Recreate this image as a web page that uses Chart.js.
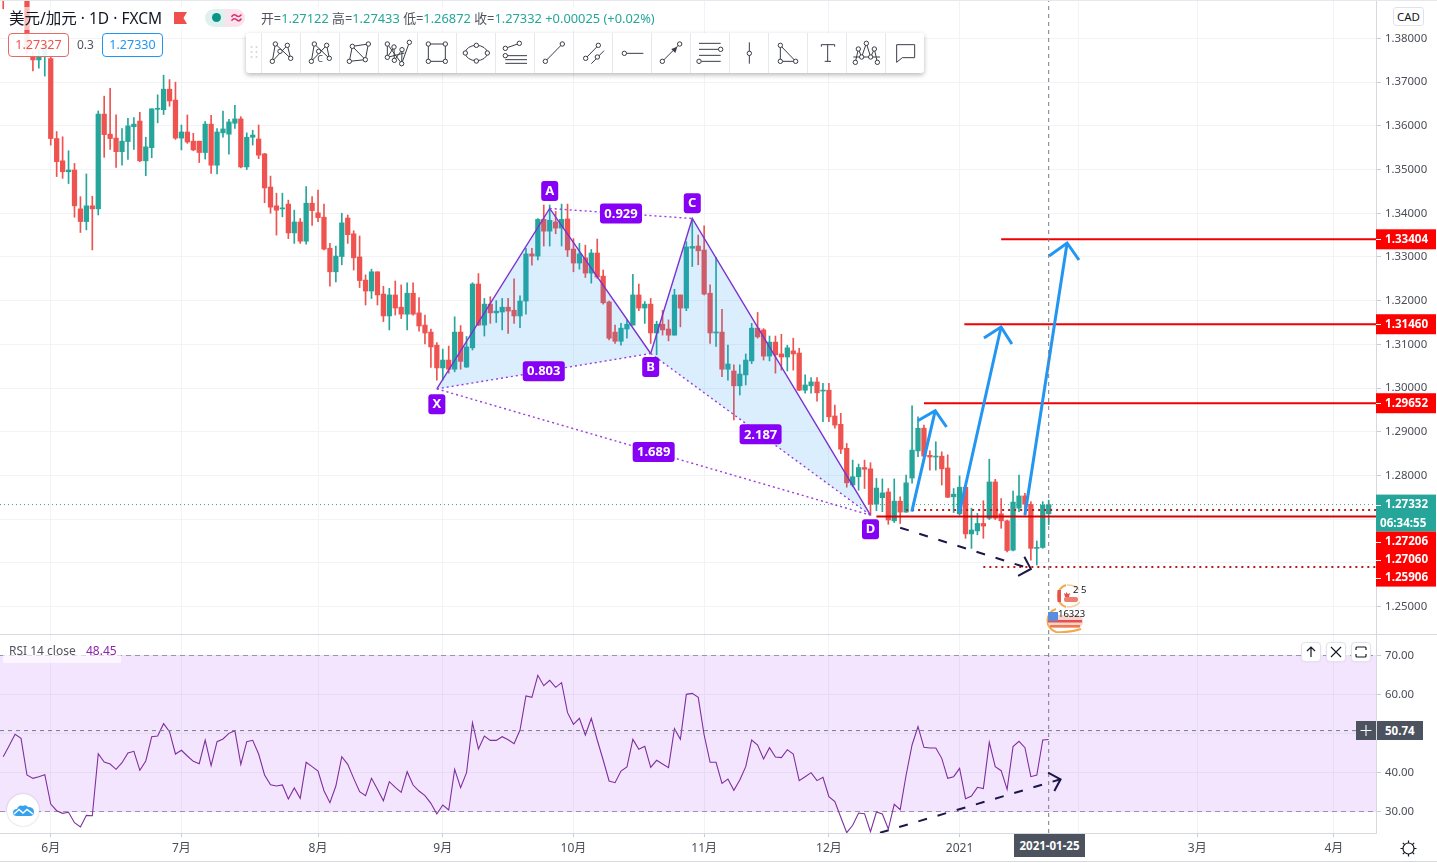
<!DOCTYPE html>
<html lang="zh">
<head>
<meta charset="utf-8">
<title>USD/CAD</title>
<script src="https://cdn.jsdelivr.net/npm/chart.js@4"></script>
<style>
html,body{margin:0;padding:0;background:#fff;width:1437px;height:863px;overflow:hidden;font-family:"Noto Sans","Noto Sans CJK SC",sans-serif}
canvas{position:absolute;left:0;display:block}
.o{position:absolute;white-space:nowrap;box-sizing:border-box}
.btn{background:#fff;border:1px solid #e0e3eb;border-radius:4px;width:20px;height:20px;top:642px;box-shadow:0 0 2px rgba(0,0,0,.08)}
</style>
</head>
<body>
<canvas id="priceCanvas" width="1437" height="634" style="top:0"></canvas>
<canvas id="rsiCanvas" width="1437" height="228" style="top:634px"></canvas>

<div class="o" style="left:0;top:0;width:1437px;height:1px;background:#e6e8ee"></div>
<div class="o" style="left:0;top:634px;width:1437px;height:1px;background:#d6d9e0"></div>
<div class="o" style="left:0;top:861px;width:1437px;height:1px;background:#d6d9e0"></div>

<div class="o" style="left:4px;top:7px;width:654px;height:23px;background:rgba(255,255,255,.62)"></div>
<div class="o" style="left:9px;top:8px;font-size:15.5px;line-height:20px;color:#131722">美元/加元 · 1D · FXCM</div>
<svg class="o" style="left:174px;top:12px" width="13" height="12"><path d="M0 0H13L9.5 6L13 12H0Z" fill="#f0504d"/></svg>
<div class="o" style="left:205px;top:9px;width:40px;height:18px;border-radius:9px;background:linear-gradient(90deg,#dff1ef 0 50%,#fbe3ec 50%)"></div>
<div class="o" style="left:212px;top:13px;width:9px;height:9px;border-radius:50%;background:#0a9488"></div>
<div class="o" style="left:229px;top:8px;font-size:15px;line-height:19px;font-weight:bold;color:#d8306f">≈</div>
<div class="o" style="left:261px;top:10px;font-size:12.85px;line-height:16px;color:#50535e">开=<span style="color:#26a69a">1.27122</span> 高=<span style="color:#26a69a">1.27433</span> 低=<span style="color:#26a69a">1.26872</span> 收=<span style="color:#26a69a">1.27332</span> <span style="color:#26a69a">+0.00025 (+0.02%)</span></div>

<div class="o" style="left:8px;top:33px;width:61px;height:24px;border:1px solid #e56a68;border-radius:4px;background:rgba(255,255,255,.9);color:#ef5350;font-size:12.5px;line-height:22px;text-align:center">1.27327</div>
<div class="o" style="left:77px;top:36px;font-size:12px;line-height:18px;color:#50535e">0.3</div>
<div class="o" style="left:102px;top:33px;width:61px;height:24px;border:1px solid #2196f3;border-radius:4px;background:rgba(255,255,255,.9);color:#2196f3;font-size:12.5px;line-height:22px;text-align:center">1.27330</div>

<div id="toolbar" class="o" style="left:246px;top:33px;width:678px;height:40px;background:#fff;border-radius:3px;box-shadow:0 2px 5px rgba(0,0,0,.28)"></div>

<div class="o" style="left:1393px;top:7px;width:31px;height:19px;border:1px solid #e0e3eb;border-radius:3px;background:#fff;font-size:11.5px;line-height:17px;text-align:center;color:#131722">CAD</div>

<div class="o" style="left:3px;top:641px;width:118px;height:22px;background:rgba(255,255,255,.65)"></div>
<div class="o" style="left:9px;top:643px;font-size:12px;line-height:16px;color:#50535e">RSI 14 close</div>
<div class="o" style="left:86px;top:643px;font-size:12px;line-height:16px;color:#8e24aa">48.45</div>

<div class="o btn" style="left:1301px"><svg width="18" height="18"><path d="M9 14V4M5 8L9 4L13 8" fill="none" stroke="#131722" stroke-width="1.2"/></svg></div>
<div class="o btn" style="left:1326px"><svg width="18" height="18"><path d="M4 4L14 14M14 4L4 14" fill="none" stroke="#131722" stroke-width="1.1"/></svg></div>
<div class="o btn" style="left:1351px"><svg width="18" height="18"><path d="M4 7V5Q4 4 5 4H13Q14 4 14 5V7M4 11V13Q4 14 5 14H13Q14 14 14 13V11" fill="none" stroke="#131722" stroke-width="1.2"/></svg></div>

<div class="o" style="left:1356px;top:721px;width:20px;height:19px;background:#4c525e"><svg width="20" height="19"><path d="M10 4V15M4.500 9.500H15.500" stroke="#fff" stroke-width="1.1"/></svg></div>
<div class="o" style="left:1377px;top:721px;width:46px;height:19px;background:#4c525e;color:#fff;font-size:11.5px;font-weight:bold;line-height:19px;padding-left:8px">50.74</div>
<div class="o" style="left:1014px;top:834px;width:71px;height:23px;background:#4c525e;color:#fff;font-size:11.5px;font-weight:bold;line-height:23px;text-align:center">2021-01-25</div>

<svg class="o" style="left:1399px;top:839px" width="19" height="19"><circle cx="9.500" cy="9.500" r="5.500" fill="none" stroke="#131722" stroke-width="1.2"/><path d="M9.500 1.500V4M9.500 15V17.500M1.500 9.500H4M15 9.500H17.500M3.800 3.800L5.600 5.600M13.400 13.400L15.200 15.200M3.800 15.200L5.600 13.400M13.400 5.600L15.200 3.800" stroke="#131722" stroke-width="1.2"/></svg>

<div class="o" style="left:7px;top:794px;width:32px;height:32px;border-radius:50%;background:#fff;box-shadow:0 0 2px rgba(0,0,0,.25)"><svg width="32" height="32"><path d="M6 19Q6 15 10 15Q12 10 16 12Q19 10 21 13Q27 13 27 18Q27 22 23 22H10Q6 22 6 19Z" fill="#35a2ee"/><path d="M7 20L12 15.500L16 19L20 15.500L26 20" fill="none" stroke="#fff" stroke-width="1.5"/></svg></div>

<svg class="o" style="left:1052px;top:584px" width="32" height="24"><path d="M14 1A11.500 11.500 0 0 0 14 23" fill="none" stroke="#f3a94a" stroke-width="2"/><path d="M15 1Q24 1 27 6M15 23Q24 23 28 18" fill="none" stroke="#f7cf9a" stroke-width="1.5"/><circle cx="14" cy="12" r="8" fill="#fff"/><rect x="5.500" y="6" width="3.500" height="12" fill="#e8504e"/><path d="M14 8l2 2 2-1-1 4h-4l-1-4 2 1z" fill="#e8504e"/><rect x="12" y="13" width="14" height="5" rx="2" fill="#ee7f6e"/></svg>
<div class="o" style="left:1073px;top:584px;font-size:9.500px;line-height:11px;color:#131722">2 5</div>
<svg class="o" style="left:1043px;top:608px" width="42" height="25"><path d="M13 1A12 12 0 0 0 13 24Q26 25 38 21" fill="none" stroke="#f3a94a" stroke-width="2"/><rect x="5" y="7" width="35" height="13" rx="6" fill="#f8d5cc"/><rect x="5" y="12" width="34" height="2.500" fill="#e8504e"/><rect x="7" y="17" width="30" height="2.500" fill="#f07a50"/><rect x="5" y="4" width="10" height="9" fill="#5b8ddc"/></svg>
<div class="o" style="left:1058px;top:608px;width:27px;overflow:hidden;font-size:9.500px;line-height:12px;color:#131722">16323</div>

<script>
// ---- candle values (index 0 = first visible session, 2020-05-20) ----
const opens = [
1.3925,1.3905,1.3935,1.3915,1.3900,1.3758,1.3751,1.3762,1.3754,1.3571,
1.3520,1.3495,1.3499,1.3410,1.3381,1.3417,1.3410,1.3627,1.3581,1.3572,
1.3541,1.3564,1.3598,1.3611,1.3520,1.3550,1.3638,1.3637,1.3684,1.3659,
1.3572,1.3586,1.3565,1.3565,1.3539,1.3604,1.3510,1.3584,1.3581,1.3606,
1.3616,1.3506,1.3574,1.3570,1.3536,1.3460,1.3417,1.3410,1.3421,1.3355,
1.3380,1.3336,1.3423,1.3401,1.3391,1.3320,1.3266,1.3301,1.3389,1.3353,
1.3300,1.3247,1.3222,1.3266,1.3215,1.3165,1.3213,1.3185,1.3169,1.3217,
1.3172,1.3144,1.3128,1.3098,1.3046,1.3064,1.3043,1.3128,1.3048,1.3092,
1.3238,1.3144,1.3192,1.3172,1.3174,1.3185,1.3178,1.3165,1.3199,1.3307,
1.3302,1.3386,1.3359,1.3380,1.3366,1.3387,1.3318,1.3286,1.3298,1.3263,
1.3309,1.3256,1.3197,1.3128,1.3107,1.3135,1.3144,1.3213,1.3183,1.3192,
1.3126,1.3146,1.3135,1.3121,1.3213,1.3183,1.3320,1.3325,1.3316,1.3217,
1.3126,1.3128,1.3043,1.3039,1.3005,1.3030,1.3062,1.3137,1.3133,1.3073,
1.3105,1.3078,1.3071,1.3085,1.3080,1.2995,1.3005,1.3014,1.2993,1.2995,
1.2936,1.2917,1.2862,1.2778,1.2797,1.2818,1.2815,1.2734,1.2749,1.2762,
1.2696,1.2741,1.2716,1.2794,1.2856,1.2908,1.2846,1.2842,1.2844,1.2817,
1.2751,1.2712,1.2773,1.2666,1.2673,1.2690,1.2702,1.2785,1.2712,1.2696,
1.2629,1.2725,1.2753,1.2734,1.2633,1.2635,1.27122];
const closes = [
1.3895,1.3892,1.3905,1.3898,1.3774,1.3751,1.3758,1.3785,1.3571,1.3518,
1.3495,1.3499,1.3417,1.3381,1.3417,1.3410,1.3627,1.3580,1.3571,1.3541,
1.3565,1.3600,1.3604,1.3520,1.3552,1.3639,1.3639,1.3684,1.3657,1.3572,
1.3586,1.3563,1.3545,1.3539,1.3604,1.3510,1.3586,1.3593,1.3609,1.3616,
1.3506,1.3574,1.3579,1.3533,1.3458,1.3414,1.3407,1.3412,1.3355,1.3380,
1.3336,1.3423,1.3406,1.3390,1.3318,1.3266,1.3302,1.3378,1.3351,1.3298,
1.3246,1.3222,1.3266,1.3213,1.3165,1.3213,1.3183,1.3169,1.3217,1.3169,
1.3142,1.3126,1.3094,1.3046,1.3064,1.3043,1.3128,1.3061,1.3094,1.3238,
1.3144,1.3192,1.3172,1.3176,1.3185,1.3176,1.3165,1.3199,1.3307,1.3302,
1.3386,1.3359,1.3384,1.3366,1.3386,1.3316,1.3286,1.3307,1.3263,1.3309,
1.3254,1.3195,1.3114,1.3107,1.3137,1.3146,1.3213,1.3183,1.3192,1.3126,
1.3146,1.3133,1.3121,1.3213,1.3183,1.3323,1.3324,1.3314,1.3215,1.3126,
1.3128,1.3043,1.3055,1.3005,1.3032,1.3064,1.3137,1.3117,1.3073,1.3105,
1.3076,1.3071,1.3092,1.3078,1.2995,1.3007,1.3014,1.2989,1.2995,1.2934,
1.2915,1.2860,1.2783,1.2797,1.2818,1.2814,1.2734,1.2771,1.2760,1.2698,
1.2741,1.2716,1.2783,1.2858,1.2908,1.2844,1.2842,1.2844,1.2815,1.2750,
1.2757,1.2773,1.2666,1.2675,1.2690,1.2684,1.2785,1.2702,1.2696,1.2628,
1.2739,1.2753,1.2734,1.2633,1.2635,1.2732,1.27332];
const highs = [
1.3935,1.3945,1.3950,1.3930,1.3915,1.3770,1.3774,1.3790,1.3758,1.3587,
1.3575,1.3543,1.3514,1.3438,1.3490,1.3439,1.3634,1.3668,1.3686,1.3625,
1.3594,1.3617,1.3619,1.3631,1.3574,1.3639,1.3671,1.3716,1.3706,1.3700,
1.3602,1.3625,1.3583,1.3565,1.3610,1.3624,1.3594,1.3634,1.3615,1.3647,
1.3621,1.3584,1.3590,1.3602,1.3537,1.3485,1.3446,1.3446,1.3430,1.3407,
1.3388,1.3461,1.3438,1.3453,1.3421,1.3331,1.3325,1.3400,1.3396,1.3360,
1.3348,1.3259,1.3272,1.3266,1.3233,1.3228,1.3245,1.3236,1.3241,1.3241,
1.3207,1.3167,1.3135,1.3104,1.3089,1.3096,1.3163,1.3143,1.3118,1.3241,
1.3262,1.3205,1.3209,1.3200,1.3205,1.3205,1.3250,1.3211,1.3320,1.3320,
1.3388,1.3419,1.3419,1.3404,1.3421,1.3421,1.3342,1.3331,1.3327,1.3317,
1.3341,1.3270,1.3199,1.3144,1.3148,1.3156,1.3260,1.3238,1.3198,1.3205,
1.3153,1.3178,1.3156,1.3226,1.3213,1.3335,1.3388,1.3350,1.3371,1.3236,
1.3299,1.3180,1.3098,1.3053,1.3053,1.3078,1.3148,1.3173,1.3136,1.3119,
1.3119,1.3123,1.3098,1.3114,1.3091,1.3030,1.3024,1.3024,1.3011,1.3011,
1.2961,1.2942,1.2873,1.2835,1.2826,1.2835,1.2829,1.2793,1.2792,1.2770,
1.2792,1.2751,1.2801,1.2959,1.2934,1.2915,1.2856,1.2877,1.2854,1.2847,
1.2770,1.2799,1.2774,1.2725,1.2713,1.2742,1.2837,1.2791,1.2747,1.2698,
1.2764,1.2801,1.2759,1.2740,1.2650,1.2740,1.27433];
const lows = [
1.3868,1.3890,1.3892,1.3890,1.3765,1.3726,1.3732,1.3714,1.3556,1.3484,
1.3480,1.3468,1.3391,1.3356,1.3362,1.3316,1.3396,1.3528,1.3546,1.3505,
1.3510,1.3523,1.3546,1.3518,1.3486,1.3527,1.3607,1.3626,1.3645,1.3569,
1.3545,1.3560,1.3543,1.3516,1.3524,1.3491,1.3490,1.3574,1.3535,1.3594,
1.3504,1.3500,1.3556,1.3525,1.3424,1.3400,1.3350,1.3392,1.3342,1.3331,
1.3331,1.3329,1.3372,1.3381,1.3316,1.3233,1.3243,1.3282,1.3331,1.3270,
1.3230,1.3190,1.3205,1.3190,1.3152,1.3133,1.3167,1.3159,1.3133,1.3167,
1.3130,1.3101,1.3047,1.3018,1.3018,1.3034,1.3037,1.3043,1.3047,1.3087,
1.3143,1.3119,1.3148,1.3150,1.3133,1.3125,1.3148,1.3138,1.3169,1.3281,
1.3293,1.3325,1.3325,1.3353,1.3325,1.3301,1.3266,1.3272,1.3253,1.3240,
1.3251,1.3192,1.3110,1.3102,1.3098,1.3114,1.3144,1.3177,1.3148,1.3102,
1.3076,1.3121,1.3108,1.3121,1.3140,1.3177,1.3278,1.3282,1.3213,1.3102,
1.3095,1.3026,1.3018,1.2927,1.2984,1.3007,1.3056,1.3114,1.3064,1.3062,
1.3034,1.3041,1.3039,1.3041,1.2994,1.2988,1.2988,1.2970,1.2923,1.2923,
1.2908,1.2850,1.2773,1.2774,1.2766,1.2770,1.2709,1.2719,1.2717,1.2688,
1.2692,1.2690,1.2715,1.2782,1.2843,1.2841,1.2812,1.2812,1.2778,1.2749,
1.2715,1.2709,1.2656,1.2633,1.2664,1.2656,1.2699,1.2699,1.2679,1.2625,
1.2627,1.2717,1.2709,1.2606,1.2595,1.2633,1.26872];
const rsiValues = [
44.06,46.88,49.79,48.76,39.36,38.50,38.93,39.45,31.92,30.21,
29.53,29.79,27.14,26.03,29.02,28.93,44.83,42.69,42.18,40.81,
42.52,45.00,45.43,40.56,42.95,49.19,49.36,52.52,50.47,44.74,
45.69,44.23,42.86,42.27,48.33,41.75,47.91,48.59,50.04,50.73,
42.10,47.91,48.25,44.74,39.36,36.88,36.54,36.80,33.21,36.03,
33.38,42.61,41.50,40.39,35.34,32.27,36.54,44.06,42.10,38.50,
35.09,34.06,38.50,35.68,32.77,37.65,36.19,34.91,40.21,36.79,
35.25,34.06,32.09,29.35,31.66,30.38,40.81,36.11,39.95,52.77,
46.02,49.35,48.24,48.24,49.18,48.41,47.39,50.89,59.61,59.27,
64.91,62.26,63.63,61.83,63.03,55.34,52.35,53.88,49.61,53.88,
48.33,43.20,37.82,37.39,40.38,41.41,48.50,45.94,46.71,41.32,
43.12,42.18,41.24,51.24,48.50,60.04,60.29,59.27,49.61,42.61,
42.61,37.22,38.34,35.43,38.08,41.50,48.34,47.05,43.46,46.37,
43.98,43.81,45.86,44.75,37.91,38.93,39.96,37.91,38.76,33.81,
32.52,28.51,24.57,26.46,29.62,29.45,24.83,29.87,29.36,25.51,
31.84,30.47,39.36,47.05,51.75,46.45,46.28,46.28,43.63,38.51,
38.93,41.07,33.29,33.98,36.20,35.86,47.74,41.50,40.47,35.69,
46.63,48.00,46.37,38.93,39.36,48.34,48.45];

// ---- axes ----
const timeTickIndex = [8,30,53,74,96,118,139,161,181,201,224];
const timeTickLabels = ['6月','7月','8月','9月','10月','11月','12月','2021','','3月','4月'];
const priceTicks = [1.25,1.26,1.27,1.28,1.29,1.30,1.31,1.32,1.33,1.34,1.35,1.36,1.37,1.38];
const rsiTicks = [30,40,50,60,70];
const xMin = -0.54, xMax = 231.1;
const priceMin = 1.2437, priceMax = 1.38881;
const rsiMin = 24.49, rsiMax = 75.51;
const crossIndex = 176, crossRsi = 50.74;

// ---- harmonic pattern (session index, price) ----
const patX = [73,92,109,116,146];
const patY = [1.2998,1.3411,1.3079,1.3388,1.2709];
const pointLabels = ['X','A','B','C','D'];
const pointLabelPrice = [1.2963,1.3451,1.3048,1.3423,1.2677];
const ratioLabels = ['0.929','0.803','1.689','2.187'];
const ratioX = [104,91,109.5,127.5];
const ratioY = [1.33995,1.30385,1.28535,1.2894];

// ---- price levels ----
const currentPrice = 1.27332;
const levelPrices = [1.33404,1.31460,1.29652,1.27060];
const levelStart = [168,161.8,155,147];
const dottedPrices = [1.27206,1.25906];
const dottedStart = [152,165];
const tagTexts = ['1.27206','1.27060','1.25906'];
const timerText = '06:34:55';

// ---- arrows ----
const arrow1X=[152.95,156.9], arrow1Y=[1.27169,1.29481], head1X=[153.96,156.9,158.8], head1Y=[1.29252,1.29481,1.29108];
const arrow2X=[160.96,167.98], arrow2Y=[1.27139,1.31397], head2X=[165.1,167.98,169.8], head2Y=[1.31145,1.31397,1.31007];
const arrow3X=[172,179.1], arrow3Y=[1.27094,1.33319], head3X=[176.06,179.1,181.1], head3Y=[1.33022,1.33319,1.3293];
const divPriceX=[151,173], divPriceY=[1.26803,1.25858], divPriceHeadX=[171.9,173,170.85], divPriceHeadY=[1.26139,1.25858,1.25698];
const divRsiX=[147.6,178], divRsiY=[24.56,38.26], divRsiHeadX=[175.9,178,176.95], divRsiHeadY=[39.95,38.26,35.26];

// ---- helpers ----
const UP='#26a69a', DOWN='#ef5350', FONT='"Noto Sans","Noto Sans CJK SC",sans-serif';
const idx = opens.map((_,i)=>i);
const colors = idx.map(i=>closes[i]>=opens[i]?UP:DOWN);
const pts = (xs,ys)=>xs.map((x,i)=>({x,y:ys[i]}));
const line = (xs,ys,color,width,dash,order,extra)=>Object.assign({type:'line',data:pts(xs,ys),borderColor:color,borderWidth:width,borderDash:dash||[],pointRadius:0,tension:0,order,fill:false,borderCapStyle:'butt'},extra||{});
const at = a=>[a.map(i=>patX[i]),a.map(i=>patY[i])];
const xAxis = (show)=>({
  type:'linear',min:xMin,max:xMax,offset:false,
  afterBuildTicks:s=>{s.ticks=timeTickIndex.map(value=>({value}));},
  afterFit:s=>{s.paddingLeft=0;s.paddingRight=0;if(show)s.height=29;},
  grid:{color:'#f1f3f7',offset:false,drawTicks:show,tickLength:4,tickColor:'#c9ccd4'},
  border:{display:show,color:'#d6d9e0'},
  ticks:{display:show,autoSkip:false,maxRotation:0,padding:4,color:'#4a4d57',font:{family:FONT,size:12},
    callback:(v,i)=>timeTickLabels[i]}
});
const yAxis = (min,max,list,dec)=>({
  position:'right',min,max,
  afterBuildTicks:s=>{s.ticks=list.map(value=>({value}));},
  afterFit:s=>{s.width=61;s.paddingTop=0;s.paddingBottom=0;},
  grid:{color:'#f1f3f7',tickLength:5,tickColor:'#c9ccd4'},
  border:{color:'#d6d9e0'},
  ticks:{padding:4,color:'#4a4d57',font:{family:FONT,size:11.4},callback:v=>Number(v).toFixed(dec)}
});
const baseOpts = (scales,plugins)=>({responsive:false,animation:false,devicePixelRatio:1,events:[],
  layout:{padding:0},scales,plugins:Object.assign({legend:{display:false},tooltip:{enabled:false}},plugins||{})});

function roundBox(c,x,y,w,h,r,fill){c.fillStyle=fill;c.beginPath();c.roundRect(x,y,w,h,r);c.fill();}

const overlayPlugin = {id:'overlay',afterDraw(ch){
  const c=ch.ctx,xs=ch.scales.x,ys=ch.scales.y;
  c.save();
  c.textAlign='center';c.textBaseline='middle';c.font='bold 13px '+FONT;
  pointLabels.forEach((t,i)=>{const x=xs.getPixelForValue(patX[i]),y=ys.getPixelForValue(pointLabelPrice[i]);
    roundBox(c,x-8.5,y-10,17,20,3,'#8500f5');c.fillStyle='#fff';c.fillText(t,x,y+.5);});
  ratioLabels.forEach((t,i)=>{const x=xs.getPixelForValue(ratioX[i]),y=ys.getPixelForValue(ratioY[i]);
    roundBox(c,x-21,y-10,42,20,3,'#8500f5');c.fillStyle='#fff';c.fillText(t,x,y+.5);});
  const R=xs.right,W=60;
  c.textAlign='left';c.font='bold 11.6px '+FONT;
  levelPrices.slice(0,3).forEach(p=>{const y=ys.getPixelForValue(p);
    c.fillStyle='#ff0000';c.fillRect(R,y-10,W,20);
    c.fillStyle='#fff';c.fillText(p.toFixed(5),R+9,y+.5);
    c.fillRect(R,Math.round(y),5,1);});
  const cy=ys.getPixelForValue(currentPrice);
  c.fillStyle=UP;c.fillRect(R,cy-10,W,37);
  c.fillStyle='#fff';c.fillText(currentPrice.toFixed(5),R+9,cy+.5);
  c.fillRect(R,Math.round(cy),5,1);
  c.fillText(timerText,R+4,cy+19.5);
  c.fillStyle='#ff0000';c.fillRect(R,cy+27,W,55);
  tagTexts.forEach((t,i)=>{const y=cy+37+18*i;c.fillStyle='#fff';c.fillText(t,R+9,y);c.fillRect(R,Math.round(y),5,1);});
  c.restore();
}};

// ---- price pane ----
const fillOpt={fill:'+1',backgroundColor:'rgba(33,150,243,.16)'};
const [xa,ya]=at([0,1,2]),[xb,yb]=at([0,2]),[xc,yc]=at([2,3,4]),[xd,yd]=at([2,4]),[xe,ye]=at([1,3]),[xf,yf]=at([0,4]);
const PURPLE='#7b32cf', DOT='#9a3be0', BLUE='#2196f3', NAVY='#1b1748';
const priceData=[
  {type:'bar',data:idx.map(i=>({x:i,y:[lows[i],highs[i]]})),backgroundColor:colors,barThickness:1,grouped:false,order:21},
  {type:'bar',data:idx.map(i=>({x:i,y:[Math.min(opens[i],closes[i]),Math.max(opens[i],closes[i])]})),backgroundColor:colors,barThickness:4.6,grouped:false,minBarLength:1,order:20},
  line([xMin,xMax],[currentPrice,currentPrice],'#3f9d8f',1,[1,3],22),
  line(xa,ya,PURPLE,1.4,[],9,fillOpt),
  line(xb,yb,DOT,1.4,[2,3],6),
  line(xc,yc,PURPLE,1.4,[],8,fillOpt),
  line(xd,yd,DOT,1.4,[2,3],6),
  line(xe,ye,DOT,1.4,[2,3],6),
  line(xf,yf,DOT,1.4,[2,3],6),
  ...levelPrices.map((p,i)=>line([levelStart[i],xMax],[p,p],i===3?'#d80000':'#f00000',2,[],5)),
  ...dottedPrices.map((p,i)=>line([dottedStart[i],xMax],[p,p],'#c01818',2,[2,4],5)),
  line(arrow1X,arrow1Y,BLUE,3,[],3),line(head1X,head1Y,BLUE,3,[],3),
  line(arrow2X,arrow2Y,BLUE,3,[],3),line(head2X,head2Y,BLUE,3,[],3),
  line(arrow3X,arrow3Y,BLUE,3,[],3),line(head3X,head3Y,BLUE,3,[],3),
  line(divPriceX,divPriceY,NAVY,2,[9,11],2),line(divPriceHeadX,divPriceHeadY,NAVY,2,[],2),
  line([crossIndex,crossIndex],[priceMin,priceMax],'#787b86',1,[4,4],1)
];
new Chart(document.getElementById('priceCanvas'),{type:'bar',data:{datasets:priceData},
  options:baseOpts({x:xAxis(false),y:yAxis(priceMin,priceMax,priceTicks,5)}),plugins:[overlayPlugin]});

// ---- RSI pane ----
const BAND='#a08fb0';
const rsiData=[
  line([xMin,xMax],[70,70],BAND,1,[5,4],12,{fill:{value:30},backgroundColor:'rgba(165,50,245,.125)'}),
  line([xMin,xMax],[30,30],BAND,1,[5,4],11),
  line(idx,rsiValues,'#7f2f9e',1.1,[],6),
  line([xMin,xMax],[crossRsi,crossRsi],'#787b86',1,[4,4],5),
  line([crossIndex,crossIndex],[rsiMin,rsiMax],'#787b86',1,[4,4],5),
  line(divRsiX,divRsiY,NAVY,2,[9,11],3),line(divRsiHeadX,divRsiHeadY,NAVY,2,[],3)
];
new Chart(document.getElementById('rsiCanvas'),{type:'line',data:{datasets:rsiData},
  options:baseOpts({x:xAxis(true),y:yAxis(rsiMin,rsiMax,rsiTicks,2)})});

// ---- drawing toolbar (interface chrome, in toolbar pixels x3) ----
const L=338*3;
const tools=[
 {l:[[[79,85],[88,33],[134,76],[124,37],[79,85]]],n:[[88,33],[124,37],[102,55],[79,85],[134,76]]},
 {l:[[[196,85],[205,33],[250,76],[242,37],[196,85]]],n:[[205,33],[242,37],[218,55],[196,85],[250,76]],t:[222,88,'C']},
 {l:[[[319,40],[367,33],[358,80],[310,85],[319,40],[358,80]]],n:[[319,40],[367,33],[358,80],[310,85]]},
 {l:[[[424,33],[424,73],[444,42],[445,82],[468,50],[467,92],[490,28]],[[424,33],[467,92]],[[424,73],[475,60]]],n:[[424,33],[444,42],[468,50],[490,28],[424,73],[445,82],[467,92]]},
 {l:[[[547,33],[598,33],[598,85],[547,85],[547,33]]],n:[[547,33],[598,33],[598,85],[547,85]]},
 {e:[691,60,33,23],n:[[691,37],[724,60],[691,84],[658,60]]},
 {l:[[[778,46],[820,31]],[[778,68],[843,68]],[[778,80],[843,80]],[[778,91],[843,91]]],n:[[778,46],[820,31],[778,68]]},
 {l:[[[898,85],[949,33]]],n:[[898,85],[949,33]]},
 {l:[[[L+5,76],[L+43,37]],[[L+22,92],[L+60,53]]],n:[[L+5,76],[L+43,37],[L+40,72]]},
 {l:[[[L+121,61],[L+178,61]]],n:[[L+121,61]]},
 {l:[[[L+235,85],[L+287,33]]],n:[[L+235,85],[L+287,33]],p:[[L+280,41],[L+262,48],[L+274,60]]},
 {l:[[[L+345,31],[L+410,31]],[[L+345,49],[L+410,49]],[[L+345,67],[L+410,67]],[[L+345,85],[L+410,85]]],n:[[L+410,49],[L+345,85]]},
 {l:[[[L+496,28],[L+496,92]]],n:[[L+496,61]]},
 {l:[[[L+589,37],[L+589,85],[L+635,85],[L+589,37]]],n:[[L+589,37],[L+589,85],[L+635,85]]},
 {l:[[[L+712,41],[L+712,35],[L+752,35],[L+752,41]],[[L+731,35],[L+731,85]],[[L+722,85],[L+741,85]]],n:[]},
 {l:[[[L+814,88],[L+823,48],[L+833,72],[L+847,31],[L+860,72],[L+871,48],[L+880,88]],[[L+808,72],[L+888,72]]],n:[[L+847,31],[L+823,48],[L+871,48],[L+833,72],[L+860,72],[L+814,88],[L+880,88]]},
 {l:[[[L+938,35],[L+992,35],[L+992,74],[L+955,74],[L+938,88],[L+938,35]]],n:[]}
];
const S='#3a3d46', f=v=>(v/3).toFixed(2);
let tb='<svg width="678" height="40" style="position:absolute;left:0;top:0">';
[[5,13],[10,13],[5,18],[10,18],[5,23],[10,23]].forEach(p=>{tb+=`<circle cx="${p[0]+.5}" cy="${p[1]+1}" r="1" fill="#d3d6dc"/>`;});
tools.forEach((t,n)=>{
  const ox=15+n*39;
  tb+=`<line x1="${ox+.5}" y1="0" x2="${ox+.5}" y2="40" stroke="#e6e8ee"/>`;
  (t.l||[]).forEach(p=>{tb+=`<polyline points="${p.map(q=>f(q[0])+','+f(q[1])).join(' ')}" fill="none" stroke="${S}" stroke-width="1"/>`;});
  if(t.e)tb+=`<ellipse cx="${f(t.e[0])}" cy="${f(t.e[1])}" rx="${f(t.e[2])}" ry="${f(t.e[3])}" fill="none" stroke="${S}"/>`;
  if(t.p)tb+=`<polygon points="${t.p.map(q=>f(q[0])+','+f(q[1])).join(' ')}" fill="${S}"/>`;
  if(t.t)tb+=`<text x="${f(t.t[0])}" y="${f(t.t[1])}" font-size="9" text-anchor="middle" fill="${S}">${t.t[2]}</text>`;
  t.n.forEach(q=>{tb+=`<circle cx="${f(q[0])}" cy="${f(q[1])}" r="2.200" fill="#fff" stroke="${S}"/>`;});
});
tb+='</svg>';
document.getElementById('toolbar').innerHTML=tb;
</script>
</body>
</html>
